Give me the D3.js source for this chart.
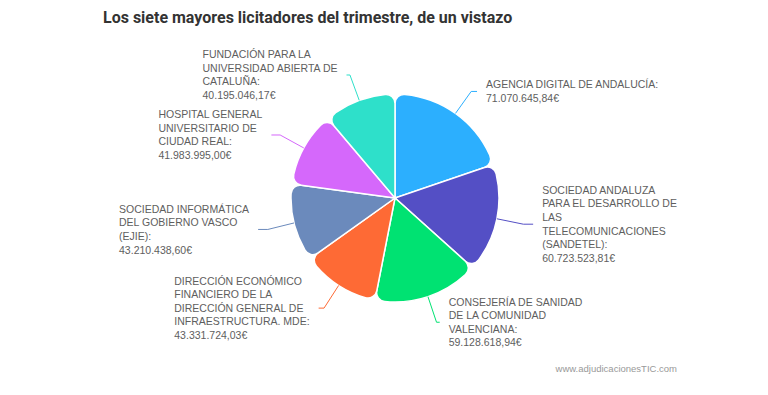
<!DOCTYPE html>
<html>
<head>
<meta charset="utf-8">
<script src="https://cdn.jsdelivr.net/npm/d3@7"></script>
<style>
  body { margin: 0; background: #fff; }
  svg { display: block; }
  .lbl { font-family: "Liberation Sans", Arial, sans-serif; font-size: 10.5px; fill: #5e5e5e; }
</style>
</head>
<body>
<div id="chart"></div>
<script>
// organisms, as shown in the labels (line breaks as in the picture)
var names = [
  ["AGENCIA DIGITAL DE ANDALUCÍA:"],
  ["SOCIEDAD ANDALUZA", "PARA EL DESARROLLO DE", "LAS", "TELECOMUNICACIONES", "(SANDETEL):"],
  ["CONSEJERÍA DE SANIDAD", "DE LA COMUNIDAD", "VALENCIANA:"],
  ["DIRECCIÓN ECONÓMICO", "FINANCIERO DE LA", "DIRECCIÓN GENERAL DE", "INFRAESTRUCTURA. MDE:"],
  ["SOCIEDAD INFORMÁTICA", "DEL GOBIERNO VASCO", "(EJIE):"],
  ["HOSPITAL GENERAL", "UNIVERSITARIO DE", "CIUDAD REAL:"],
  ["FUNDACIÓN PARA LA", "UNIVERSIDAD ABIERTA DE", "CATALUÑA:"]
];
var amounts = [71070645.84, 60723523.81, 59128618.94, 43331724.03, 43210438.60, 41983995.00, 40195046.17];
var colors = ["#2caffe", "#544fc5", "#00e272", "#fe6a35", "#6b8abc", "#d568fb", "#2ee0ca"];

var title = "Los siete mayores licitadores del trimestre, de un vistazo";
var credit = "www.adjudicacionesTIC.com";

var width = 768, height = 395,
    cx = 395, cy = 198,
    radius = 104,
    lineH = 13.6;

var es = d3.formatLocale({ decimal: ",", thousands: ".", grouping: [3], currency: ["", "€"] });
var money = es.format("$,.2f");

var data = amounts.map(function(v, i) {
  return { lines: names[i], value: v, color: colors[i] };
});

var svg = d3.select("#chart").append("svg")
    .attr("width", width)
    .attr("height", height);

svg.append("text")
    .attr("x", 103)
    .attr("y", 23)
    .style("font-family", "Roboto, 'Liberation Sans', sans-serif")
    .style("font-weight", "bold")
    .style("font-size", "16px")
    .style("fill", "#333")
    .text(title);

svg.append("text")
    .attr("x", 677)
    .attr("y", 372)
    .attr("text-anchor", "end")
    .style("font-family", "'Liberation Sans', Arial, sans-serif")
    .style("font-size", "9.5px")
    .style("fill", "#999")
    .text(credit);

var pie = d3.pie().sort(null).value(function(d) { return d.value; });
var arc = d3.arc().innerRadius(0).outerRadius(radius).cornerRadius(9);

var g = svg.append("g").attr("transform", "translate(" + cx + "," + cy + ")");
var arcs = pie(data);

g.selectAll("path.slice")
  .data(arcs)
  .enter().append("path")
    .attr("class", "slice")
    .attr("d", arc)
    .attr("fill", function(d) { return d.data.color; })
    .attr("stroke", "#fff")
    .attr("stroke-width", 1.5);

function polar(a, r) { return [Math.sin(a) * r, -Math.cos(a) * r]; }

arcs.forEach(function(d) {
  var mid = (d.startAngle + d.endAngle) / 2,
      right = Math.sin(mid) >= 0,
      p0 = polar(mid, radius),
      p1 = polar(mid, radius + 27),
      crook = 10 * Math.abs(Math.sin(mid)),
      p2 = [p1[0] + (right ? crook : -crook), p1[1]];

  g.append("path")
    .attr("d", d3.line()([p0, p1, p2]))
    .attr("fill", "none")
    .attr("stroke", d.data.color)
    .attr("stroke-width", 1);

  var lines = d.data.lines.concat([money(d.data.value)]);
  var t = g.append("text")
    .attr("class", "lbl");
  var top = p2[1] - (lines.length - 1) * lineH / 2;
  lines.forEach(function(s, i) {
    t.append("tspan")
      .attr("x", 0)
      .attr("y", top + i * lineH)
      .attr("dy", "0.35em")
      .text(s);
  });
  // left-aligned block, placed beside the end of the connector
  var w = t.node().getBBox().width;
  var x0 = right ? p2[0] + 9 : p2[0] - 9 - w;
  t.selectAll("tspan").attr("x", x0);
});
</script>
</body>
</html>
